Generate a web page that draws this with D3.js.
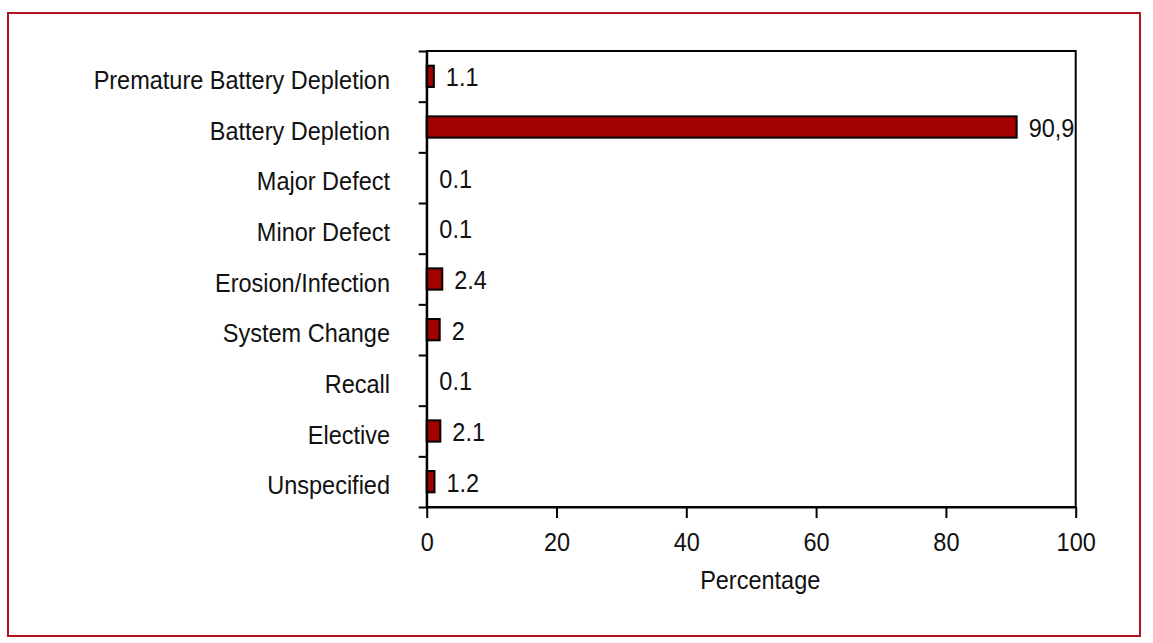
<!DOCTYPE html>
<html>
<head>
<meta charset="utf-8">
<script src="https://cdn.jsdelivr.net/npm/d3@7"></script>
<style>
  html, body { margin: 0; padding: 0; background: #fff; }
  svg { display: block; }
  text { font-family: "Liberation Sans", Arial, sans-serif; fill: #111; }
</style>
</head>
<body>
<svg id="chart" width="1153" height="643"></svg>
<script>
const categories = ["Premature Battery Depletion", "Battery Depletion", "Major Defect", "Minor Defect",
  "Erosion/Infection", "System Change", "Recall", "Elective", "Unspecified"];
const values = [1.1, 90.9, 0.1, 0.1, 2.4, 2, 0.1, 2.1, 1.2];
const valueLabels = ["1.1", "90,9", "0.1", "0.1", "2.4", "2", "0.1", "2.1", "1.2"];
const xTicks = [0, 20, 40, 60, 80, 100];
const xTitle = "Percentage";

(function () {
const svg = d3.select("#chart");
const FONT = 25;
const SX = 0.94; // horizontal condensation to mimic a narrow grotesque

// outer frame
svg.append("rect").attr("x", 8).attr("y", 13).attr("width", 1132).attr("height", 623)
  .attr("fill", "none").attr("stroke", "#b3121f").attr("stroke-width", 2);

const pLeft = 426.7, pRight = 1075.7, pTop = 51, pBottom = 507;
const x = d3.scaleLinear().domain([0, 100]).range([pLeft, pRight]);
const y = d3.scaleBand().domain(categories).range([pTop, pBottom]).padding(0);
const yEdge = d3.scaleLinear().domain([0, categories.length]).range([pTop, pBottom]);

function narrow(sel, px, py) {
  sel.attr("x", 0).attr("y", 0)
     .attr("transform", (d, i) => `translate(${px(d, i)},${py(d, i)}) scale(${SX},1)`);
}

// plot box
svg.append("rect").attr("x", pLeft).attr("y", pTop).attr("width", pRight - pLeft).attr("height", pBottom - pTop)
  .attr("fill", "none").attr("stroke", "#000").attr("stroke-width", 2);

// bars
const barH = y.bandwidth() * 0.42;
svg.append("g").selectAll("rect").data(values).join("rect")
  .attr("x", x(0))
  .attr("y", (d, i) => y(categories[i]) + (y.bandwidth() - barH) / 2)
  .attr("width", d => x(d) - x(0))
  .attr("height", barH)
  .attr("fill", "#a30000")
  .attr("stroke", d => d < 0.5 ? "none" : "#000")
  .attr("stroke-width", 2);

// value labels
svg.append("g").selectAll("text").data(values).join("text")
  .call(narrow, d => x(d) + 12, (d, i) => y(categories[i]) + y.bandwidth() / 2 + 1)
  .attr("dy", "0.36em")
  .attr("font-size", FONT)
  .text((d, i) => valueLabels[i]);

// y axis: boundary ticks
const yAxis = svg.append("g").attr("transform", `translate(${pLeft},0)`)
  .call(d3.axisLeft(yEdge).tickValues(d3.range(categories.length + 1)).tickFormat("").tickSize(8).tickSizeOuter(0));
yAxis.select(".domain").attr("stroke-width", 2);
yAxis.selectAll(".tick line").attr("stroke-width", 2);

// category labels
svg.append("g").selectAll("text").data(categories).join("text")
  .call(narrow, () => 390, d => y(d) + y.bandwidth() / 2 + 3.5)
  .attr("dy", "0.36em")
  .attr("text-anchor", "end")
  .attr("font-size", FONT)
  .text(d => d);

// x axis
const xAxis = svg.append("g").attr("transform", `translate(0,${pBottom})`)
  .call(d3.axisBottom(x).tickValues(xTicks).tickSize(11).tickSizeOuter(0).tickPadding(15));
xAxis.attr("font-family", null).attr("font-size", null);
xAxis.select(".domain").attr("stroke-width", 2);
xAxis.selectAll(".tick line").attr("stroke-width", 2);
xAxis.selectAll(".tick text").attr("font-size", FONT).style("fill", "#111")
  .attr("transform", `scale(${SX},1)`).attr("x", 0);

svg.append("text")
  .call(narrow, () => (pLeft + pRight) / 2 + 9, () => 589)
  .attr("text-anchor", "middle")
  .attr("font-size", FONT)
  .text(xTitle);
})();
</script>
</body>
</html>
